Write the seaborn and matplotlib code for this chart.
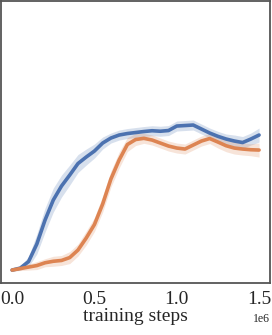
import numpy as np
import pandas as pd
import seaborn as sns
import matplotlib.pyplot as plt

# training steps (x 1e6)
steps = np.arange(31) * 0.05e6

blue_mean = [0, 2, 8.5, 26, 50, 70, 84, 95, 106.5, 113, 119, 127, 132, 135, 136.5,
             137.5, 138.5, 139.3, 138.8, 139.5, 144, 144.5, 145, 141, 137, 133.7,
             131, 129, 127.5, 131, 135]
blue_err = [1, 2, 5, 10, 12, 12, 11, 10, 9, 8, 7, 6, 5, 5, 5, 5, 5, 5, 5, 5, 5, 5,
            5, 5, 5, 5, 5, 6, 6, 6, 7]

orange_mean = [0, 1.5, 3, 4.5, 7.3, 8.8, 9.6, 12.5, 20, 32, 45.5, 66, 91, 110,
               125.5, 130.5, 131.7, 130, 127, 124, 122, 121, 125, 129, 131.5, 128,
               124.3, 122, 121, 120.3, 120]
orange_err = [1, 2, 3, 4, 4, 5, 5, 6, 6, 7, 7, 8, 8, 8, 7, 6, 5, 5, 5, 5, 5, 5, 5,
              5, 5, 6, 6, 6, 6, 6, 7]

colors = ["#4C72B0", "#DD8452"]

sns.set_style("white")
plt.rcParams["font.family"] = ["Liberation Serif", "DejaVu Serif"]

fig = plt.figure(figsize=(2.72, 3.35), dpi=100)
ax = fig.add_axes([0.004, 0.155, 0.989, 0.842])

for mean, err, c in [(blue_mean, blue_err, colors[0]),
                     (orange_mean, orange_err, colors[1])]:
    mean = np.array(mean)
    err = np.array(err)
    df = pd.DataFrame({"steps": steps, "value": mean})
    sns.lineplot(data=df, x="steps", y="value", color=c, lw=2.6, ax=ax)
    ax.fill_between(steps, mean - err, mean + err, color=c, alpha=0.22, lw=0)

ax.set_xlim(-0.067e6, 1.567e6)
ax.set_ylim(-13, 269)
ax.set_xticks([0, 0.5e6, 1.0e6, 1.5e6])
ax.set_yticks([])
ax.set_ylabel("")
ax.set_xlabel("training steps", fontsize=14, labelpad=0)
ax.tick_params(axis="x", labelsize=14, length=0, pad=6)
ax.xaxis.get_offset_text().set_fontsize(8.5)
for s in ax.spines.values():
    s.set_color("#555555")
    s.set_linewidth(1.3)

fig.savefig("out.png", dpi=100)
